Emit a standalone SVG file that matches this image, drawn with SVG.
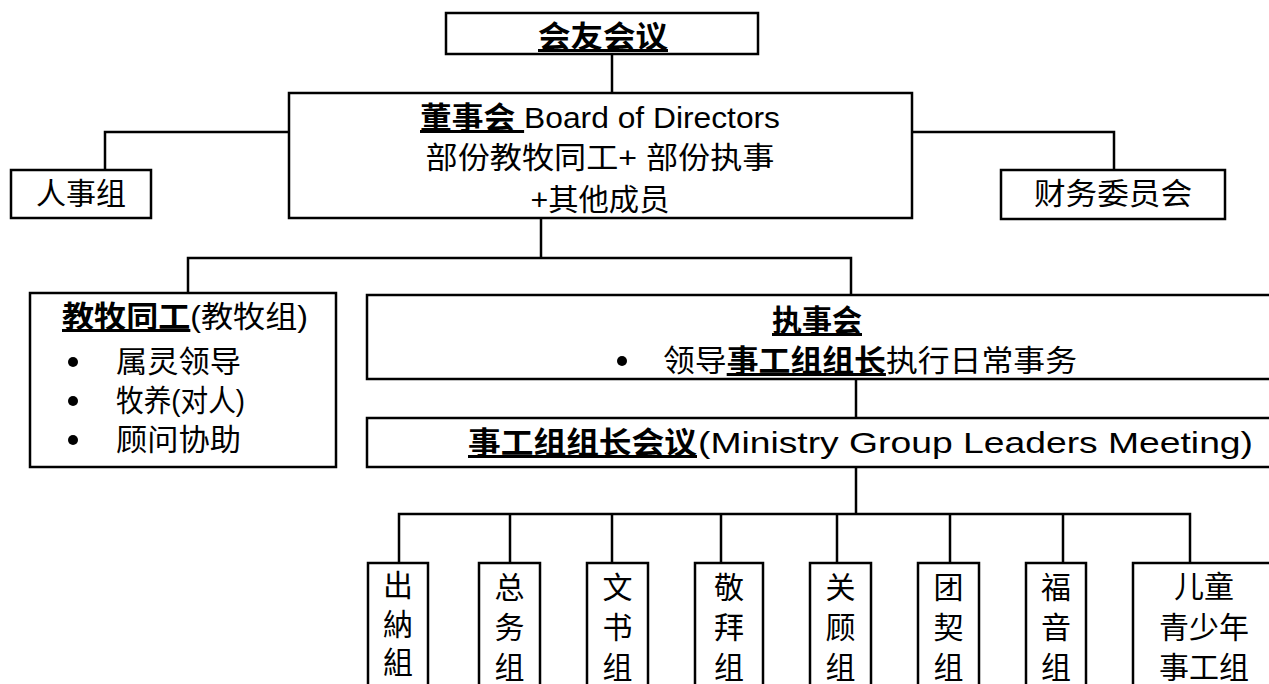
<svg xmlns="http://www.w3.org/2000/svg" width="1269" height="684" viewBox="0 0 1269 684">
<style>
.box{fill:#fff;stroke:#000;stroke-width:2.5}
.ln{fill:none;stroke:#000;stroke-width:2.5}
text{font-family:"Liberation Sans","Noto Sans CJK SC",sans-serif;fill:#000}
.t{font-size:30px}
.c{text-anchor:middle}
.b{font-weight:bold}
.u{text-decoration:underline}
</style>
<rect width="1269" height="684" fill="#fff"/>
<g id="connectors">
<path class="ln" d="M612,54V93"/>
<path class="ln" d="M289,132H105V170"/>
<path class="ln" d="M912,132H1114V170"/>
<path class="ln" d="M541,218V258"/>
<path class="ln" d="M188,293V258H851V295"/>
<path class="ln" d="M856,379V418"/>
<path class="ln" d="M856,467V514"/>
<path class="ln" d="M399,563V514H1190V563"/>
<path class="ln" d="M510,514V563M612,514V563M721,514V563M837,514V563M950,514V563M1063,514V563"/>
</g>
<g id="members-meeting">
<rect class="box" x="446" y="13" width="312" height="41"/>
<text class="t c b u" x="603" y="47" font-size="32" textLength="130" lengthAdjust="spacingAndGlyphs">会友会议</text>
</g>
<g id="board">
<rect class="box" x="289" y="93" width="623" height="125"/>
<text class="t c" x="600" y="128" font-size="31" textLength="360" lengthAdjust="spacingAndGlyphs"><tspan class="b u">董事会 </tspan>Board of Directors</text>
<text class="t c" x="600" y="168" font-size="31" textLength="349" lengthAdjust="spacingAndGlyphs">部份教牧同工+ 部份执事</text>
<text class="t c" x="600" y="210" font-size="31" textLength="139" lengthAdjust="spacingAndGlyphs">+其他成员</text>
</g>
<g id="personnel">
<rect class="box" x="11" y="170" width="140" height="48"/>
<text class="t c" x="81" y="204" font-size="31">人事组</text>
</g>
<g id="finance">
<rect class="box" x="1001" y="170" width="224" height="49"/>
<text class="t c" x="1113" y="204" font-size="31" textLength="158" lengthAdjust="spacingAndGlyphs">财务委员会</text>
</g>
<g id="pastoral">
<rect class="box" x="30" y="293" width="306" height="174"/>
<text class="t" x="62" y="327" font-size="31" textLength="246" lengthAdjust="spacingAndGlyphs"><tspan class="b u">教牧同工</tspan>(教牧组)</text>
<circle cx="73" cy="362" r="5"/>
<circle cx="73" cy="401" r="5"/>
<circle cx="73" cy="440" r="5"/>
<text class="t" x="116" y="372" font-size="31" textLength="125" lengthAdjust="spacingAndGlyphs">属灵领导</text>
<text class="t" x="116" y="411" font-size="31" textLength="129" lengthAdjust="spacingAndGlyphs">牧养(对人)</text>
<text class="t" x="116" y="450" font-size="31" textLength="125" lengthAdjust="spacingAndGlyphs">顾问协助</text>
</g>
<g id="deacons">
<rect class="box" x="367" y="295" width="912" height="84"/>
<text class="t c b u" x="817" y="331" font-size="32">执事会</text>
<circle cx="622" cy="361" r="5"/>
<text class="t" x="663" y="371" font-size="32" textLength="414" lengthAdjust="spacingAndGlyphs">领导<tspan class="b u">事工组组长</tspan>执行日常事务</text>
</g>
<g id="leaders-meeting">
<rect class="box" x="367" y="418" width="912" height="49"/>
<text class="t b u" x="468" y="453" font-size="32" textLength="229" lengthAdjust="spacingAndGlyphs">事工组组长会议</text>
<text class="t" x="698" y="453" font-size="36" textLength="555" lengthAdjust="spacingAndGlyphs">(Ministry Group Leaders Meeting)</text>
</g>
<g id="cashier">
<rect class="box" x="368" y="563" width="60" height="140"/>
<text class="t c" x="398" y="596" font-size="28">出</text>
<text class="t c" x="398" y="635" font-size="28">納</text>
<text class="t c" x="398" y="673" font-size="28">組</text>
</g>
<g id="general-affairs">
<rect class="box" x="479" y="563" width="61" height="140"/>
<text class="t c" x="509.5" y="598">总</text>
<text class="t c" x="509.5" y="638">务</text>
<text class="t c" x="509.5" y="678">组</text>
</g>
<g id="secretarial">
<rect class="box" x="587" y="563" width="61" height="140"/>
<text class="t c" x="617.5" y="598">文</text>
<text class="t c" x="617.5" y="638">书</text>
<text class="t c" x="617.5" y="678">组</text>
</g>
<g id="worship">
<rect class="box" x="695" y="563" width="68" height="140"/>
<text class="t c" x="729" y="598">敬</text>
<text class="t c" x="729" y="638">拜</text>
<text class="t c" x="729" y="678">组</text>
</g>
<g id="care">
<rect class="box" x="810" y="563" width="61" height="140"/>
<text class="t c" x="840.5" y="598">关</text>
<text class="t c" x="840.5" y="638">顾</text>
<text class="t c" x="840.5" y="678">组</text>
</g>
<g id="fellowship">
<rect class="box" x="918" y="563" width="61" height="140"/>
<text class="t c" x="948.5" y="598">团</text>
<text class="t c" x="948.5" y="638">契</text>
<text class="t c" x="948.5" y="678">组</text>
</g>
<g id="evangelism">
<rect class="box" x="1026" y="563" width="60" height="140"/>
<text class="t c" x="1056" y="598">福</text>
<text class="t c" x="1056" y="638">音</text>
<text class="t c" x="1056" y="678">组</text>
</g>
<g id="children-youth">
<rect class="box" x="1133" y="563" width="146" height="140"/>
<text class="t c" x="1204" y="597" font-size="31">儿童</text>
<text class="t c" x="1204" y="638" font-size="31">青少年</text>
<text class="t c" x="1204" y="678" font-size="31">事工组</text>
</g>
</svg>
